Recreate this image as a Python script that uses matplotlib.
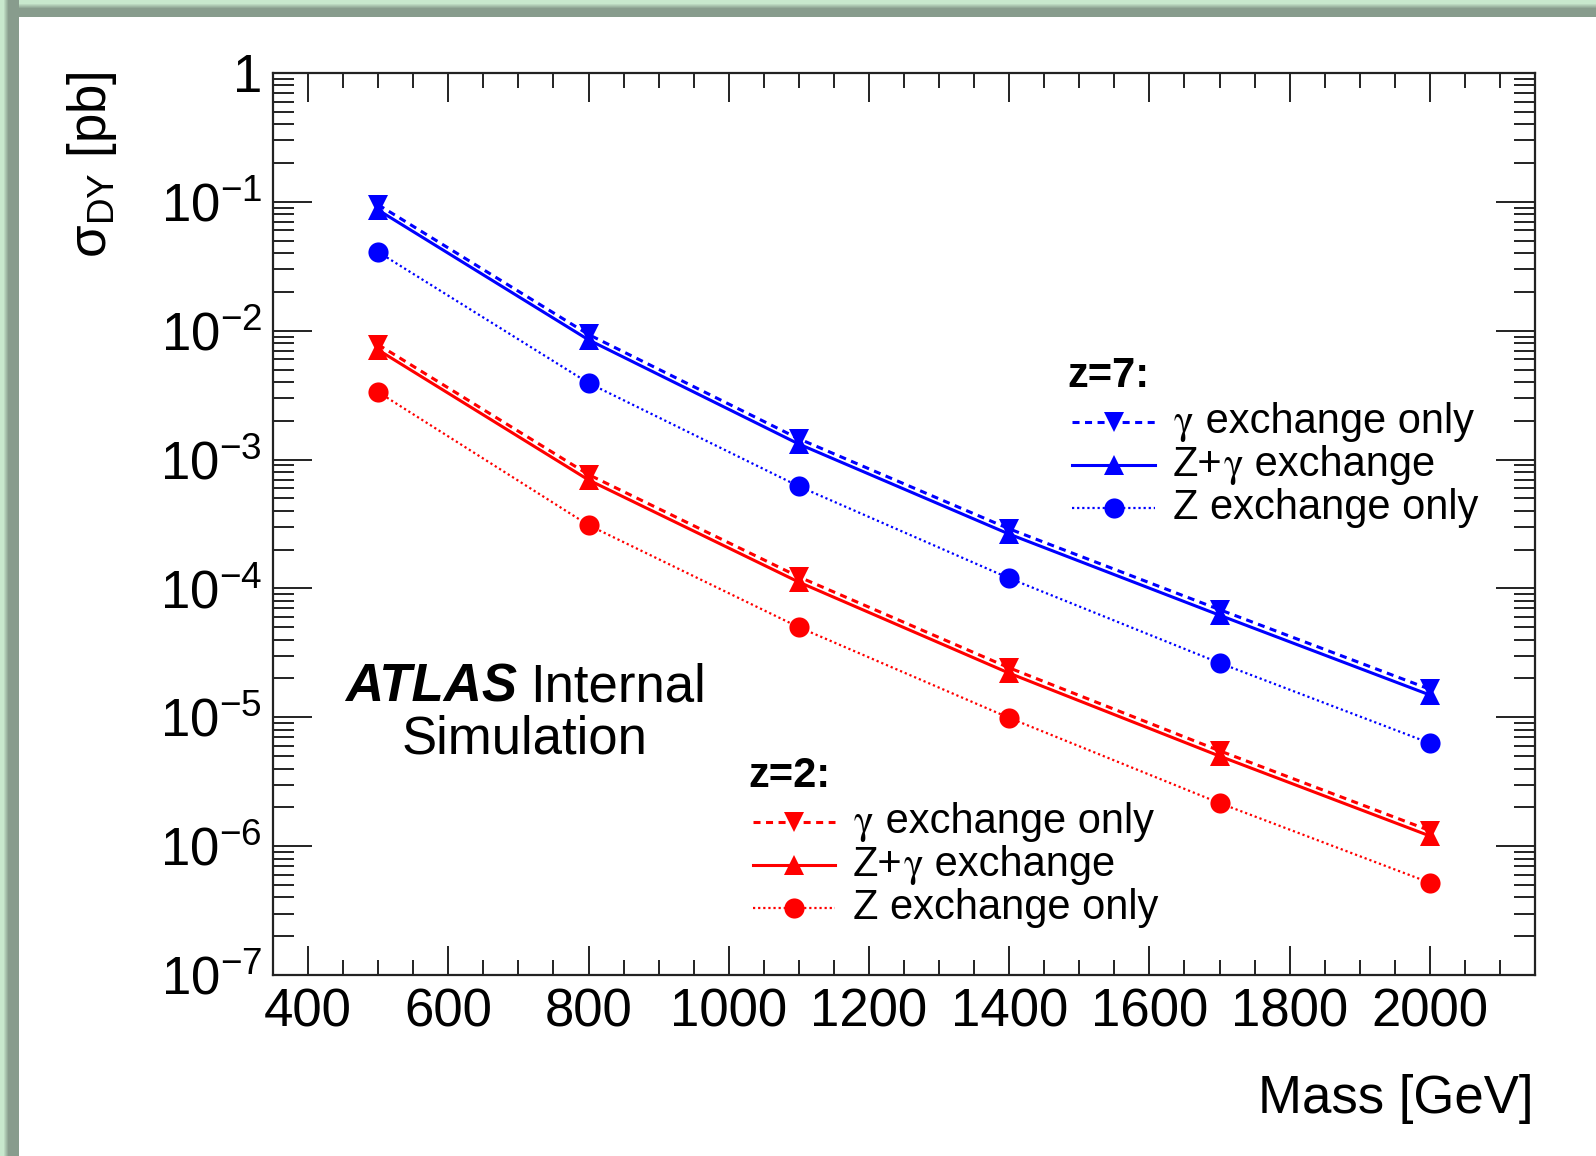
import numpy as np
import matplotlib
matplotlib.use("Agg")
import matplotlib.pyplot as plt
from matplotlib.ticker import MultipleLocator, LogLocator, FuncFormatter, NullFormatter
from matplotlib.lines import Line2D
from matplotlib.transforms import offset_copy

plt.rcParams["font.family"] = ["Liberation Sans", "DejaVu Sans"]
plt.rcParams["mathtext.fontset"] = "custom"
plt.rcParams["mathtext.rm"] = "Liberation Sans"
plt.rcParams["mathtext.it"] = "Liberation Sans:italic"
plt.rcParams["mathtext.bf"] = "Liberation Sans:bold"
plt.rcParams["mathtext.default"] = "regular"

# Drell-Yan cross sections [pb] vs. mass [GeV]
mass = [500, 800, 1100, 1400, 1700, 2000]

z7_gamma_only = [9.5e-2, 9.35e-3, 1.45e-3, 2.9e-4, 6.85e-5, 1.65e-5]
z7_z_gamma = [8.65e-2, 8.5e-3, 1.32e-3, 2.64e-4, 6.2e-5, 1.49e-5]
z7_z_only = [4.08e-2, 3.93e-3, 6.2e-4, 1.2e-4, 2.64e-5, 6.3e-6]

z2_gamma_only = [7.8e-3, 7.65e-4, 1.23e-4, 2.42e-5, 5.5e-6, 1.32e-6]
z2_z_gamma = [7.1e-3, 6.95e-4, 1.12e-4, 2.2e-5, 5.0e-6, 1.2e-6]
z2_z_only = [3.34e-3, 3.1e-4, 5.0e-5, 9.9e-6, 2.16e-6, 5.2e-7]

# legend entries as text pieces; "G" marks the gamma symbol
entry_pieces = [["G", " exchange only"], ["Z+", "G", " exchange"], ["Z exchange only"]]

W, H = 1596, 1156
fig = plt.figure(figsize=(W / 100, H / 100), dpi=100)
fig.patch.set_facecolor("white")

def fx(px):
    return px / W

def fy(py):
    return 1 - py / H

ax = fig.add_axes([fx(273), fy(975), fx(1535) - fx(273), fy(73) - fy(975)])
ax.set_yscale("log")
ax.set_xlim(350, 2150)
ax.set_ylim(1e-7, 1)

BLUE = "#0000ff"
RED = "#ff0000"
LW = 2.2
dash_style = (0, (2.3, 1.8))
dot_style = (0, (1.0, 1.3))
MS = 14.5

styles = [
    dict(linestyle=dash_style, marker="v", lw=LW),
    dict(linestyle="-", marker="^", lw=LW),
    dict(linestyle=dot_style, marker="o", lw=1.6),
]

for color, series in [(BLUE, [z7_gamma_only, z7_z_gamma, z7_z_only]),
                      (RED, [z2_gamma_only, z2_z_gamma, z2_z_only])]:
    for vals, st in zip(series, styles):
        ax.plot(mass, vals, color=color, markersize=MS, markeredgewidth=0, **st)

# axis ticks (inward, on all four sides)
ax.xaxis.set_major_locator(MultipleLocator(200))
ax.xaxis.set_minor_locator(MultipleLocator(50))
ax.yaxis.set_major_locator(LogLocator(base=10, numticks=20))
ax.yaxis.set_minor_locator(LogLocator(base=10, subs=np.arange(2, 10), numticks=20))
ax.yaxis.set_minor_formatter(NullFormatter())

def log_label(v, pos):
    e = int(round(np.log10(v)))
    if e == 0:
        return "1"
    return r"$\mathregular{10^{%d}}$" % e

ax.yaxis.set_major_formatter(FuncFormatter(log_label))
ax.tick_params(axis="both", which="both", direction="in", top=True, right=True,
               width=1.4, labelsize=38, colors="#222222", labelcolor="black")
ax.tick_params(axis="x", which="major", length=21, pad=9)
ax.tick_params(axis="x", which="minor", length=10.5)
ax.tick_params(axis="y", which="major", length=28, pad=8)
ax.tick_params(axis="y", which="minor", length=15)
for sp in ax.spines.values():
    sp.set_linewidth(1.6)
    sp.set_color("#222222")

# axis titles
fig.text(fx(1533), fy(1099), "Mass [GeV]", fontsize=38, ha="right", va="center")
fig.text(fx(92), fy(71), r"$\sigma_{DY}$ [pb]", fontsize=38, rotation=90,
         ha="center", va="top")

# ATLAS label
fig.text(fx(345), fy(702), "ATLAS", fontsize=38, fontweight="bold",
         fontstyle="italic", ha="left", va="baseline")
fig.text(fx(530), fy(702), "Internal", fontsize=38, ha="left", va="baseline")
fig.text(fx(402), fy(753), "Simulation", fontsize=38, ha="left", va="baseline")

renderer = fig.canvas.get_renderer()

def mixed_text(x_px, base_px, pieces, size):
    """Write a label piece by piece; the gamma uses a serif math glyph."""
    dx = 0.0
    for p in pieces:
        if p == "G":
            t = fig.text(fx(x_px), fy(base_px), r"$\mathrm{\gamma}$", fontsize=size,
                         math_fontfamily="stix", ha="left", va="baseline")
        else:
            t = fig.text(fx(x_px), fy(base_px), p, fontsize=size,
                         ha="left", va="baseline")
        t.set_transform(offset_copy(fig.transFigure, fig=fig, x=dx, y=0, units="dots"))
        dx += t.get_window_extent(renderer).width

# legends
def legend_block(title, title_x, title_base, key_x0, key_x1, text_x, row_centers, color):
    fig.text(fx(title_x), fy(title_base), title, fontsize=30, fontweight="bold",
             ha="left", va="baseline")
    for pieces, st, yc in zip(entry_pieces, styles, row_centers):
        line = Line2D([fx(key_x0), fx(key_x1)], [fy(yc), fy(yc)],
                      transform=fig.transFigure, color=color,
                      linestyle=st["linestyle"], lw=st["lw"])
        mk = Line2D([fx((key_x0 + key_x1) / 2)], [fy(yc)], transform=fig.transFigure,
                    color=color, marker=st["marker"], markersize=MS, markeredgewidth=0,
                    linestyle="none")
        fig.add_artist(line)
        fig.add_artist(mk)
        mixed_text(text_x, yc + 11, pieces, 30)

legend_block("z=7:", 1067, 387, 1072, 1155, 1173, [422, 465, 508], BLUE)
legend_block("z=2:", 748, 787, 753, 835, 853, [822, 865, 908], RED)

# slide frame along the top and left edges
light = np.array([200, 232, 205]) / 255.0
dark = np.array([136, 156, 141]) / 255.0

def strip(n, light_px):
    t = np.clip((np.arange(n) - light_px) / 5.0, 0, 1)
    return light[None, :] * (1 - t[:, None]) + dark[None, :] * t[:, None]

top = strip(17, 3)
top_img = np.repeat(top[:, None, :], W, axis=1)
fig.figimage(top_img, xo=0, yo=H - 17, origin="upper", zorder=10)
left = strip(19, 3)
left_img = np.repeat(left[None, :, :], H, axis=0)
fig.figimage(left_img, xo=0, yo=0, origin="upper", zorder=10)

fig.savefig("out.png", dpi=100, facecolor="white")
